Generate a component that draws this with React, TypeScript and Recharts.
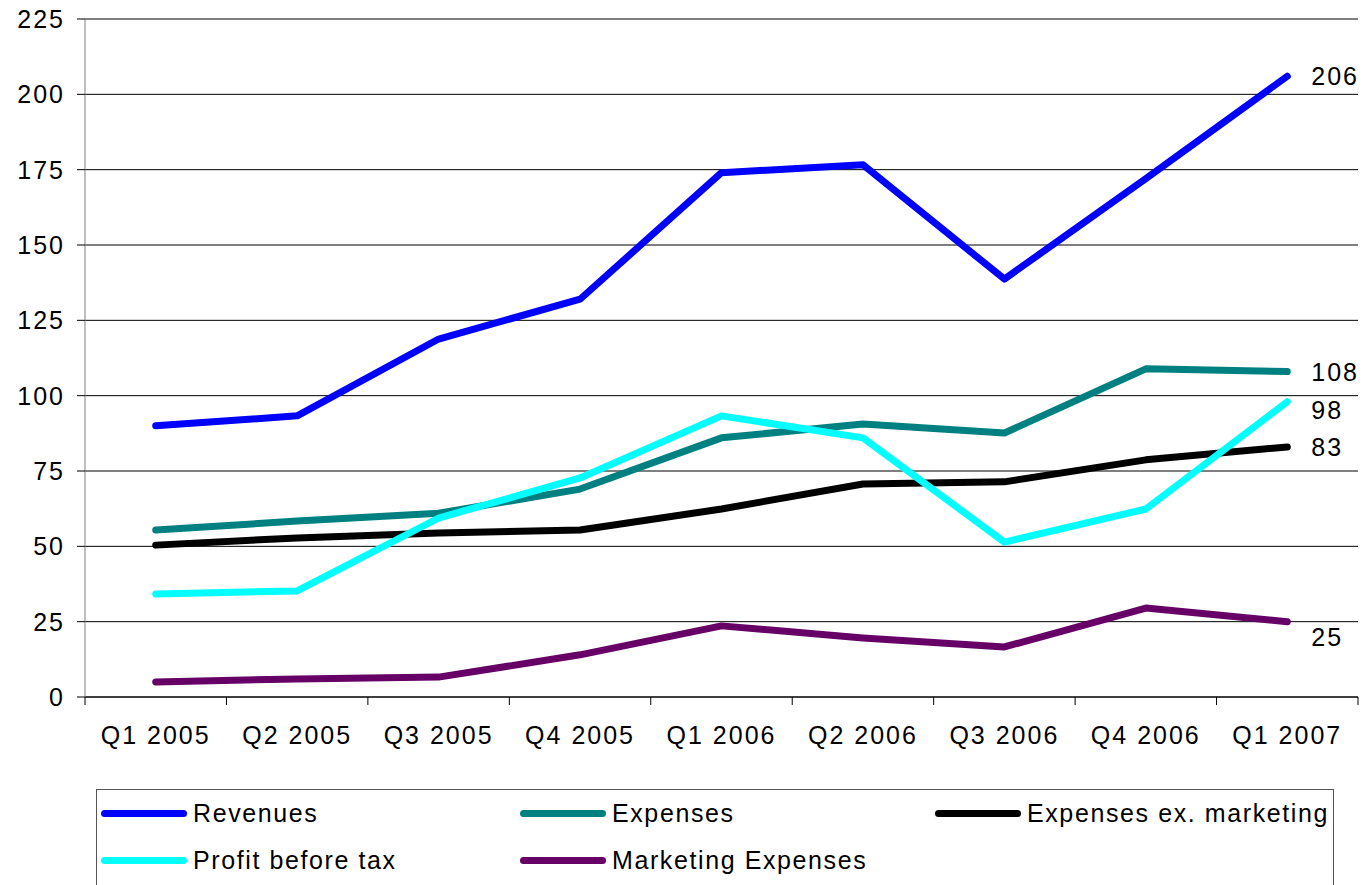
import React from "react";
import { LineChart, Line, XAxis, YAxis, CartesianGrid, Legend, LabelList } from "recharts";

const quarters = ["Q1 2005", "Q2 2005", "Q3 2005", "Q4 2005", "Q1 2006", "Q2 2006", "Q3 2006", "Q4 2006", "Q1 2007"];
const revenues = [90, 93.3, 118.8, 132, 174, 176.6, 138.7, 172, 206];
const expenses = [55.4, 58.4, 61, 69, 86, 90.6, 87.6, 108.9, 108];
const expensesExMarketing = [50.4, 52.8, 54.4, 55.4, 62.4, 70.7, 71.4, 78.7, 83];
const profitBeforeTax = [34.2, 35.2, 59.4, 72.7, 93.3, 86, 51.4, 62.4, 98];
const marketingExpenses = [5, 6, 6.6, 14, 23.6, 19.6, 16.6, 29.5, 25];
const yTicks = [0, 25, 50, 75, 100, 125, 150, 175, 200, 225];

const series = [
  { key: "revenues", name: "Revenues", color: "#0000ff", values: revenues, labelDy: 0 },
  { key: "expenses", name: "Expenses", color: "#008080", values: expenses, labelDy: 0 },
  { key: "exMarketing", name: "Expenses ex. marketing", color: "#000000", values: expensesExMarketing, labelDy: 0 },
  { key: "profit", name: "Profit before tax", color: "#00ffff", values: profitBeforeTax, labelDy: 8 },
  { key: "marketing", name: "Marketing Expenses", color: "#660066", values: marketingExpenses, labelDy: 15 },
];

const data = quarters.map((q, i) => {
  const row: Record<string, string | number> = { quarter: q };
  series.forEach((s) => (row[s.key] = s.values[i]));
  return row;
});

const FONT = "'Liberation Sans', Arial, sans-serif";
const FS = 25;
const LS = 2;
const W = 1369;
const H = 885;
const PLOT_LEFT = 85;
const PLOT_RIGHT = 1358;
const PLOT_TOP = 19;
const PLOT_BOTTOM = 697;
const BAND = (PLOT_RIGHT - PLOT_LEFT) / quarters.length;

function QuarterTick(props: any) {
  const { x, y, payload, index } = props;
  const last = index === quarters.length - 1;
  return (
    <g>
      <line x1={x - BAND / 2} x2={x - BAND / 2} y1={y} y2={y + 8} stroke="#000" />
      {last && <line x1={x + BAND / 2} x2={x + BAND / 2} y1={y} y2={y + 8} stroke="#000" />}
      <text x={x} y={y + 47} textAnchor="middle" fontSize={FS} letterSpacing={LS} fill="#000" fontFamily={FONT}>
        {payload.value}
      </text>
    </g>
  );
}

function endLabel(dy: number) {
  return (props: any) => {
    const { x, y, value, index } = props;
    if (index !== quarters.length - 1) return null;
    return (
      <text x={x + 24} y={y + dy + 9} fontSize={FS} letterSpacing={LS} fill="#000" fontFamily={FONT}>
        {Math.round(value)}
      </text>
    );
  };
}

function LegendBox() {
  const cols = [100, 519, 934];
  return (
    <div
      style={{
        position: "relative",
        width: 1238,
        height: 110,
        border: "1px solid #555",
        boxSizing: "border-box",
        fontFamily: FONT,
        fontSize: FS,
        letterSpacing: 1.6,
        color: "#000",
      }}
    >
      {series.map((s, i) => {
        const col = i % 3;
        const row = Math.floor(i / 3);
        return (
          <div
            key={s.key}
            style={{
              position: "absolute",
              left: cols[col] - 96,
              top: row * 47 + 8,
              display: "flex",
              alignItems: "center",
              height: 30,
              whiteSpace: "nowrap",
            }}
          >
            <span
              style={{
                display: "inline-block",
                width: 86,
                height: 7,
                borderRadius: 4,
                background: s.color,
                marginRight: 6,
              }}
            />
            <span>{s.name}</span>
          </div>
        );
      })}
    </div>
  );
}

export default function App() {
  return (
    <div style={{ position: "absolute", left: 0, top: 0, width: W, height: H, background: "#fff", overflow: "hidden" }}>
      <LineChart
        width={W}
        height={H}
        data={data}
        margin={{ top: PLOT_TOP, right: W - PLOT_RIGHT, bottom: H - PLOT_BOTTOM - 60, left: 0 }}
      >
        <CartesianGrid vertical={false} stroke="#000" strokeWidth={1} />
        <XAxis
          dataKey="quarter"
          height={60}
          padding={{ left: BAND / 2, right: BAND / 2 }}
          tickLine={false}
          tickSize={0}
          tickMargin={0}
          axisLine={{ stroke: "#000" }}
          tick={<QuarterTick />}
          interval={0}
        />
        <YAxis
          width={PLOT_LEFT}
          domain={[0, 225]}
          ticks={yTicks}
          interval={0}
          tickSize={8}
          tickMargin={12}
          axisLine={{ stroke: "#808080" }}
          tickLine={{ stroke: "#000" }}
          tick={{ fontSize: FS, fill: "#000", fontFamily: FONT, letterSpacing: LS }}
        />
        {series.map((s) => (
          <Line
            key={s.key}
            dataKey={s.key}
            name={s.name}
            stroke={s.color}
            strokeWidth={7}
            strokeLinecap="round"
            strokeLinejoin="round"
            dot={false}
            activeDot={false}
            isAnimationActive={false}
          >
            <LabelList dataKey={s.key} content={endLabel(s.labelDy)} />
          </Line>
        ))}
        <Legend
          layout="horizontal"
          verticalAlign="middle"
          align="center"
          wrapperStyle={{ left: 96, top: 789, width: 1238 }}
          content={() => <LegendBox />}
        />
      </LineChart>
    </div>
  );
}
